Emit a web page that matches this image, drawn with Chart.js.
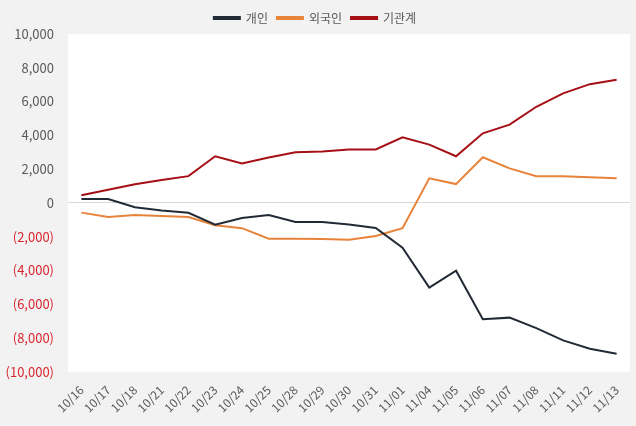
<!DOCTYPE html>
<html>
<head>
<meta charset="utf-8">
<script src="https://cdn.jsdelivr.net/npm/chart.js@4"></script>
<style>
html,body{margin:0;padding:0;background:#f2f2f2;}
#wrap{width:636px;height:426px;position:relative;}
</style>
</head>
<body>
<div id="wrap"><canvas id="c" width="636" height="426"></canvas></div>
<script>
const categories = ["10/16","10/17","10/18","10/21","10/22","10/23","10/24","10/25","10/28","10/29","10/30","10/31","11/01","11/04","11/05","11/06","11/07","11/08","11/11","11/12","11/13"];
const individual = [225,225,-265,-460,-590,-1290,-900,-720,-1130,-1130,-1290,-1490,-2660,-5020,-4020,-6890,-6800,-7420,-8150,-8640,-8940];
const foreign = [-580,-840,-720,-780,-840,-1330,-1500,-2130,-2130,-2150,-2190,-1960,-1500,1450,1110,2700,2040,1580,1580,1520,1450];
const institution = [450,780,1100,1350,1580,2760,2330,2680,3000,3040,3160,3160,3880,3450,2760,4120,4630,5690,6480,7030,7290];
const seriesNames = ["개인","외국인","기관계"];
const yTicks = [-10000,-8000,-6000,-4000,-2000,0,2000,4000,6000,8000,10000];

const FONT = "'Noto Sans CJK KR', 'Noto Sans', sans-serif";

const whiteArea = {
  id:'whiteArea',
  beforeDraw(chart){
    const {ctx, chartArea:a} = chart;
    ctx.save();
    ctx.fillStyle = '#ffffff';
    ctx.fillRect(a.left, a.top, a.right-a.left, a.bottom-a.top);
    ctx.restore();
  }
};

function fmt(v){
  const s = Math.abs(v).toLocaleString('en-US');
  return v < 0 ? '(' + s + ')' : s;
}

new Chart(document.getElementById('c'), {
  type:'line',
  data:{
    labels: categories,
    datasets:[
      {label:seriesNames[0], data:individual, borderColor:'#222a35', backgroundColor:'#222a35', borderWidth:2, pointRadius:0, tension:0},
      {label:seriesNames[1], data:foreign, borderColor:'#e8833a', backgroundColor:'#e8833a', borderWidth:2, pointRadius:0, tension:0},
      {label:seriesNames[2], data:institution, borderColor:'#a50f15', backgroundColor:'#a50f15', borderWidth:2, pointRadius:0, tension:0}
    ]
  },
  options:{
    responsive:false,
    animation:false,
    layout:{padding:{top:3,right:6,bottom:8,left:0}},
    plugins:{
      legend:{
        position:'top',
        labels:{
          font:{family:FONT,size:12},
          color:'#595959',
          boxWidth:26,
          boxHeight:2,
          padding:9
        }
      },
      tooltip:{enabled:false}
    },
    scales:{
      x:{
        offset:true,
        grid:{display:false},
        border:{display:false},
        ticks:{
          font:{family:FONT,size:12},
          color:'#595959',
          maxRotation:45,
          minRotation:45,
          autoSkip:false
        }
      },
      y:{
        min:-10000,
        max:10000,
        afterFit(s){ s.width = 68; },
        afterBuildTicks(s){ s.ticks = yTicks.map(v=>({value:v})); },
        border:{display:false},
        grid:{
          color:(c)=> (c.tick && c.tick.value === 0) ? '#d9d9d9' : 'rgba(0,0,0,0)',
          lineWidth:1,
          drawTicks:false
        },
        ticks:{
          font:{family:FONT,size:13},
          color:(c)=> (c.tick && c.tick.value < 0) ? '#d9262e' : '#595959',
          padding:14,
          callback:(v)=>fmt(v)
        }
      }
    }
  },
  plugins:[whiteArea]
});
</script>
</body>
</html>
